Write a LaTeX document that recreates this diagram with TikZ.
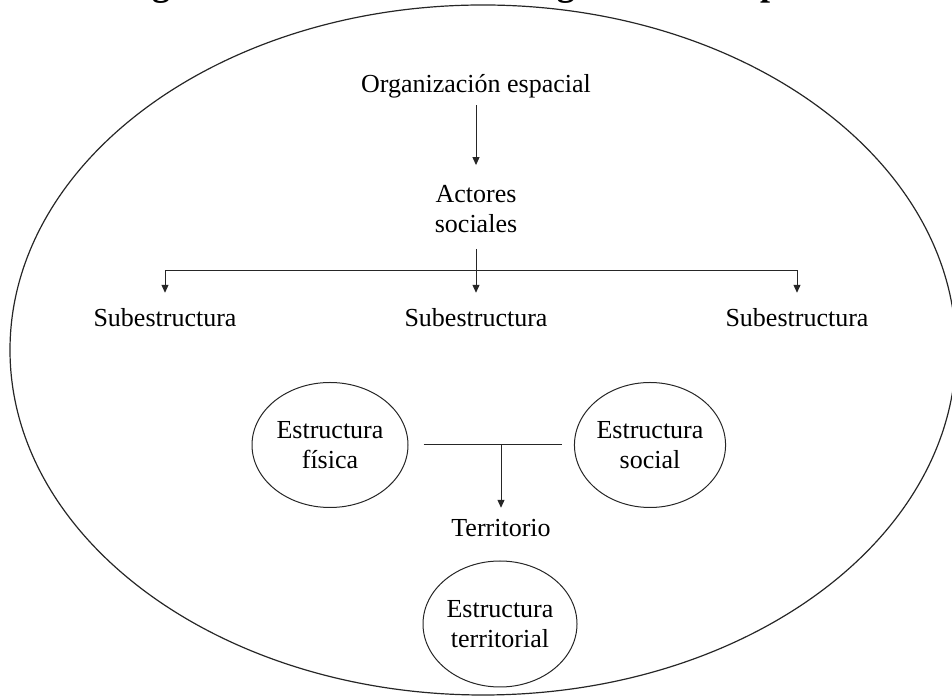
\documentclass[tikz,border=0pt]{standalone}
\usepackage{fontspec}
\setmainfont{Liberation Serif}
\usetikzlibrary{shapes.geometric,arrows.meta}
\begin{document}
\begin{tikzpicture}[x=1pt,y=1pt,
  txt/.style={font=\fontsize{26}{30}\selectfont, inner sep=0pt, text height=18pt, text depth=6pt},
  multi/.style={font=\fontsize{26}{30}\selectfont, inner sep=0pt, align=center},
  oval/.style={draw=black!85, line width=1pt, ellipse, inner sep=0pt, align=center, font=\fontsize{26}{30}\selectfont},
  arr/.style={draw=black!85, line width=1pt, -{Triangle[length=8pt,width=7pt]}},
  conn/.style={draw=black!85, line width=1pt}]
\useasboundingbox (0,0) rectangle (952,700);
\clip (0,0) rectangle (952,700);
% title (cut off at top)
\node[font=\bfseries\fontsize{36}{40}\selectfont, anchor=base, inner sep=0pt] (title) at (486,704) {Figura 1. Elementos de la organización espacial};
% frame
\node[draw=black!85, line width=1.2pt, ellipse, minimum width=946pt, minimum height=690pt, inner sep=0pt] (frame) at (483,350) {};
% nodes
\node[txt, anchor=base] (org) at (476,607) {Organización espacial};
\node[multi] (act) at (476,491) {Actores\\sociales};
\node[txt, anchor=base] (sub1) at (165,373) {Subestructura};
\node[txt, anchor=base] (sub2) at (476,373) {Subestructura};
\node[txt, anchor=base] (sub3) at (797,373) {Subestructura};
\node[oval, minimum width=156pt, minimum height=125pt] (phys) at (330,255) {Estructura\\física};
\node[oval, minimum width=146pt, minimum height=125pt] (soc) at (650,255) {Estructura\\social};
\node[txt, anchor=base] (terr) at (501,163) {Territorio};
\node[oval, minimum width=154pt, minimum height=126pt] (terrs) at (500,76) {Estructura\\territorial};
% connectors
\draw[arr, shorten <=6pt, shorten >=20pt] (org.south) -- (act.north);
\draw[arr, shorten <=16pt, shorten >=16pt] (act.south) -- (sub2.north);
\coordinate (bar) at (476,429);
\draw[arr, shorten >=16pt] (bar) -| (sub1.north);
\draw[arr, shorten >=16pt] (bar) -| (sub3.north);
\draw[conn, shorten <=15pt, shorten >=12pt] (phys.east) -- (soc.west);
\coordinate (join) at (501,255);
\draw[arr, shorten >=11pt] (join) -- (terr.north);
\end{tikzpicture}
\end{document}
